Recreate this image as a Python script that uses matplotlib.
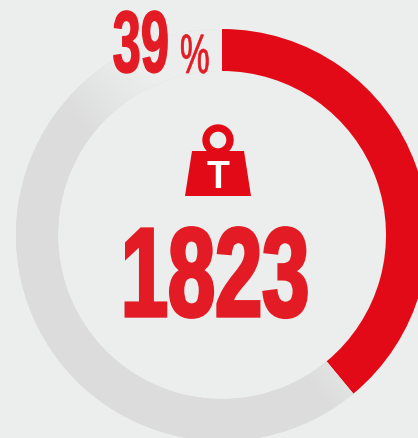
import matplotlib
matplotlib.use('Agg')
import matplotlib.pyplot as plt
import numpy as np
from matplotlib.colors import LinearSegmentedColormap
from matplotlib.patches import Circle, Polygon
from matplotlib.patheffects import AbstractPathEffect
from matplotlib.transforms import Affine2D

shares = [39, 61]
percent_label = '39'
percent_sign = '%'
total_label = '1823'
icon_label = 'T'

W, H = 418, 439
BG = '#eceeee'
RED = '#e30a17'
TEXT_RED = '#e31b24'
GREY = '#dcdcdc'
CX, CY = 222, H - 236
FONT = ['Liberation Sans Narrow', 'Liberation Sans', 'DejaVu Sans']


class SqueezeX(AbstractPathEffect):
    # squeeze glyphs sideways around x0 (display px), the fonts here are too wide
    def __init__(self, x0, sx, bold=0):
        super().__init__()
        self.x0 = x0
        self.sx = sx
        self.bold = bold

    def draw_path(self, renderer, gc, tpath, affine, rgbFace=None):
        squeeze = Affine2D().translate(-self.x0, 0).scale(self.sx, 1).translate(self.x0, 0)
        gc0 = renderer.new_gc()
        gc0.copy_properties(gc)
        if self.bold:
            gc0.set_linewidth(self.bold)
            gc0.set_foreground(rgbFace)
            gc0.set_joinstyle('miter')
        renderer.draw_path(gc0, tpath, affine + squeeze, rgbFace)
        gc0.restore()


fig = plt.figure(figsize=(W / 100, H / 100), dpi=100, facecolor=BG)
ax = fig.add_axes([0, 0, 1, 1])

wedges, _ = ax.pie(shares, colors=[RED, GREY], startangle=90, counterclock=False,
                   center=(CX, CY), radius=206,
                   wedgeprops={'width': 42, 'linewidth': 0})
ax.set_xlim(0, W)
ax.set_ylim(0, H)
ax.set_aspect('equal')
ax.axis('off')

# grey part of the ring fades out towards the top
fade = LinearSegmentedColormap.from_list('fade', [BG, BG, GREY, GREY], N=256)
yy, xx = np.mgrid[0:H, 0:W]
ramp = ((225 - xx) * 0.75 + (yy - (H - 40)) * -0.66) / 250
im = ax.imshow(np.clip(ramp, 0, 1), origin='lower', extent=(0, W, 0, H), cmap=fade,
               vmin=0, vmax=1, zorder=2, interpolation='bilinear')
im.set_clip_path(wedges[1])
ax.set_xlim(0, W)
ax.set_ylim(0, H)

# weight icon
ax.add_patch(Circle((218, H - 141), 12, facecolor='none', edgecolor=RED, linewidth=5.3, zorder=3))
ax.add_patch(Polygon([(192, H - 152), (244, H - 152), (251, H - 197), (185, H - 197)],
                     closed=True, facecolor=RED, edgecolor='none', zorder=3))
ax.text(218, H - 188, icon_label, color='white', fontsize=27, fontweight='bold',
        family=['Liberation Sans'], ha='center', va='baseline', zorder=4)

ax.text(215, H - 317, total_label, color=TEXT_RED, fontsize=91, fontweight='bold', family=FONT,
        ha='center', va='baseline', zorder=4, path_effects=[SqueezeX(215, 0.67, bold=2.4)])
ax.text(169, H - 73, percent_label, color=TEXT_RED, fontsize=63, fontweight='bold', family=FONT,
        ha='right', va='baseline', zorder=4, path_effects=[SqueezeX(169, 0.58, bold=1)])
ax.text(180, H - 74, percent_sign, color=TEXT_RED, fontsize=40, family=FONT,
        ha='left', va='baseline', zorder=4, path_effects=[SqueezeX(180, 0.6, bold=0.5)])

fig.savefig('out.png', dpi=100, facecolor=BG)
